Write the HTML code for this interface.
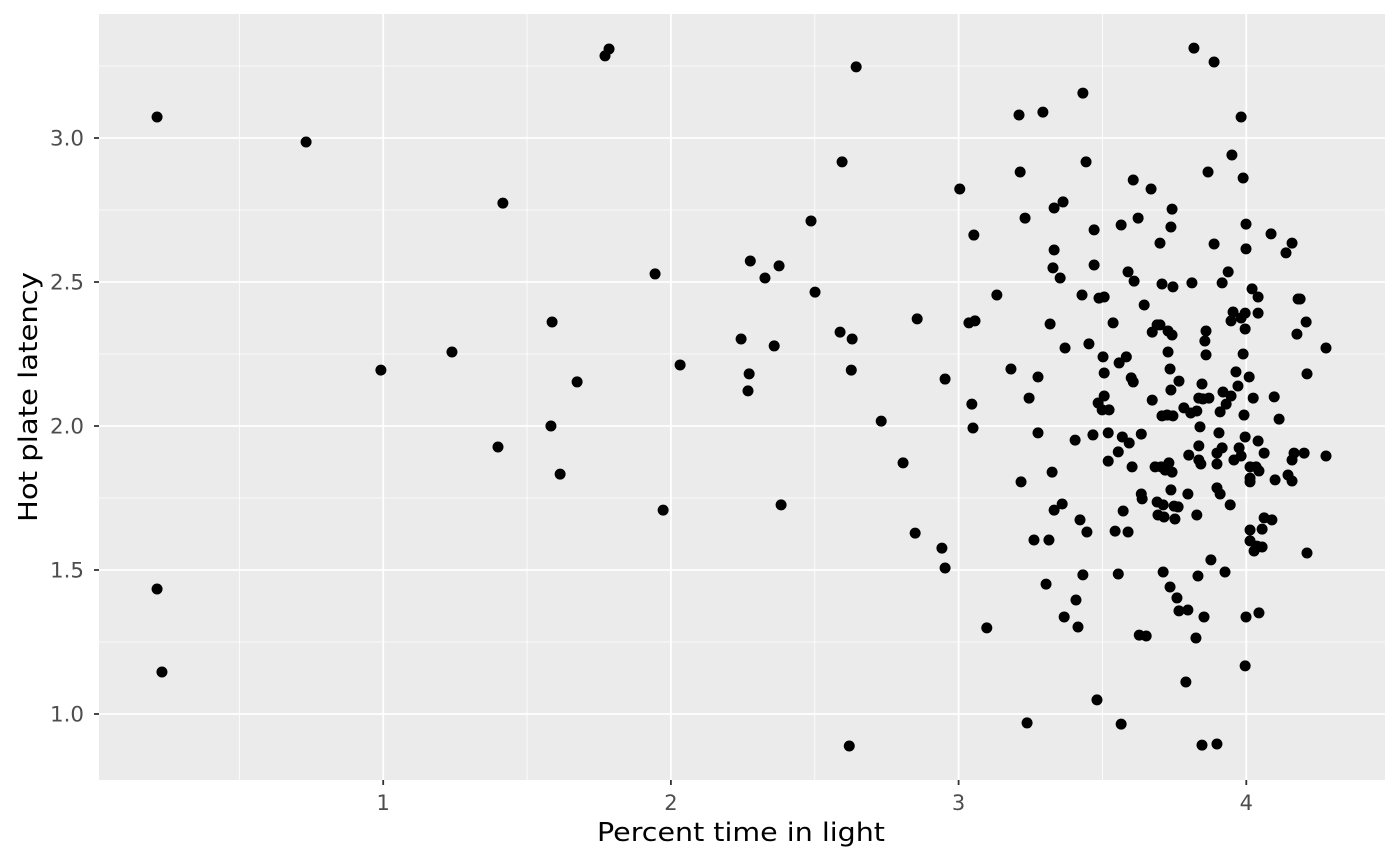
<!DOCTYPE html>
<html><head><meta charset="utf-8"><style>
body{margin:0;background:#fff;}
svg{display:block;font-family:"DejaVu Sans","Liberation Sans",sans-serif;}
</style></head><body>
<svg id="chart" width="1400" height="865" viewBox="0 0 1400 865" xmlns="http://www.w3.org/2000/svg">
<rect x="99" y="14" width="1286" height="766" fill="#ebebeb"/>
<g id="grid"></g>
<g id="points"></g>
<g id="axes"></g>
<text x="597" y="841" font-size="26" fill="#000" textLength="288" lengthAdjust="spacingAndGlyphs">Percent time in light</text>
<text transform="translate(37,522) rotate(-90)" font-size="26" fill="#000" textLength="250" lengthAdjust="spacingAndGlyphs">Hot plate latency</text>
</svg>
<script>
const xTicks=[1,2,3,4];
const xMinor=[0.5,1.5,2.5,3.5];
const yTicks=[1.0,1.5,2.0,2.5,3.0];
const yMinor=[1.25,1.75,2.25,2.75,3.25];
const xVals=[0.214,0.214,0.231,0.732,0.992,1.239,1.416,1.399,1.583,1.587,1.615,1.674,1.771,1.785,1.945,1.973,2.032,2.244,2.276,2.272,2.268,2.327,2.376,2.359,2.383,2.487,2.501,2.588,2.595,2.644,2.630,2.627,2.620,2.731,2.807,2.856,2.849,2.942,2.953,2.953,3.004,3.053,3.036,3.057,3.046,3.050,3.098,3.133,3.182,3.210,3.214,3.231,3.217,3.245,3.238,3.262,3.276,3.276,3.293,3.304,3.314,3.318,3.325,3.332,3.332,3.328,3.332,3.353,3.363,3.360,3.370,3.367,3.405,3.408,3.415,3.422,3.432,3.429,3.432,3.443,3.446,3.453,3.471,3.471,3.467,3.481,3.485,3.488,3.499,3.506,3.502,3.506,3.506,3.520,3.523,3.520,3.537,3.544,3.555,3.555,3.558,3.565,3.565,3.569,3.572,3.583,3.589,3.589,3.593,3.600,3.607,3.607,3.603,3.610,3.624,3.628,3.635,3.635,3.638,3.645,3.652,3.669,3.673,3.673,3.683,3.690,3.690,3.693,3.700,3.700,3.704,3.707,3.711,3.707,3.711,3.714,3.718,3.725,3.728,3.731,3.728,3.735,3.735,3.738,3.742,3.738,3.738,3.745,3.742,3.745,3.742,3.749,3.752,3.759,3.766,3.766,3.763,3.783,3.790,3.797,3.797,3.800,3.807,3.811,3.818,3.825,3.828,3.828,3.832,3.835,3.835,3.835,3.839,3.842,3.846,3.846,3.849,3.853,3.856,3.860,3.860,3.867,3.870,3.877,3.888,3.888,3.898,3.898,3.898,3.898,3.905,3.909,3.909,3.916,3.916,3.919,3.926,3.930,3.937,3.944,3.947,3.947,3.950,3.954,3.957,3.964,3.971,3.975,3.982,3.982,3.982,3.989,3.989,3.992,3.996,3.996,3.996,3.999,3.999,3.999,3.996,4.010,4.013,4.013,4.013,4.013,4.013,4.020,4.024,4.027,4.034,4.037,4.041,4.041,4.041,4.044,4.044,4.055,4.055,4.062,4.062,4.089,4.086,4.097,4.100,4.114,4.138,4.145,4.159,4.159,4.159,4.166,4.176,4.180,4.187,4.201,4.208,4.211,4.211,4.277,4.277];
const yVals=[3.073,1.434,1.146,2.986,2.194,2.257,2.774,1.927,2.000,2.361,1.833,2.153,3.285,3.309,2.528,1.708,2.212,2.302,2.573,2.181,2.122,2.514,2.556,2.278,1.726,2.712,2.465,2.326,2.917,3.247,2.302,2.194,0.889,2.017,1.872,2.372,1.628,1.576,1.507,2.163,2.823,2.663,2.358,2.365,2.076,1.993,1.299,2.455,2.198,3.080,2.882,2.722,1.806,2.097,0.969,1.604,1.976,2.170,3.090,1.451,1.604,2.354,1.840,1.708,2.611,2.549,2.757,2.514,2.778,1.729,2.271,1.337,1.951,1.396,1.302,1.674,3.156,2.455,1.483,2.917,1.632,2.285,2.681,2.559,1.969,1.049,2.080,2.444,2.056,2.448,2.240,2.184,2.104,1.976,2.056,1.878,2.358,1.635,1.486,1.910,2.219,2.698,0.965,1.962,1.705,2.240,1.632,2.535,1.941,2.167,2.854,2.153,1.858,2.503,2.722,1.274,1.972,1.764,1.747,2.420,1.271,2.823,2.090,2.326,1.858,2.351,1.736,1.691,2.635,2.351,1.858,2.035,1.726,2.493,1.493,1.684,1.847,2.038,2.257,1.872,2.330,2.198,1.441,1.778,2.753,2.691,2.125,2.483,2.316,2.035,1.840,1.722,1.677,1.403,2.156,1.358,1.719,2.063,1.111,1.764,1.361,1.899,2.045,2.497,3.312,1.264,1.691,2.052,1.479,2.097,1.931,1.882,1.997,1.868,2.146,0.892,2.094,1.337,2.295,2.247,2.330,2.882,2.097,1.535,3.264,2.632,1.906,0.896,1.868,1.785,1.976,2.049,1.764,2.497,1.924,2.118,1.493,2.076,2.535,1.726,2.104,2.365,2.941,2.396,1.882,2.188,2.139,1.924,1.896,3.073,2.375,2.861,2.250,2.038,2.337,1.962,2.392,2.701,2.615,1.337,1.167,2.170,1.858,1.819,1.806,1.639,1.601,2.476,2.097,1.566,1.858,1.583,1.948,2.392,2.448,1.844,1.351,1.642,1.580,1.681,1.906,1.674,2.667,2.101,1.813,2.024,2.601,1.830,2.635,1.882,1.809,1.906,2.319,2.441,2.441,1.906,2.361,2.181,1.559,2.271,1.896];

const NS="http://www.w3.org/2000/svg";
const P={l:99,r:1385,t:14,b:780};
function xs(v){return 95.5+v*287.7;}
function ys(v){return 1002-v*288;}
function mk(tag,attrs,parent){const e=document.createElementNS(NS,tag);for(const k in attrs)e.setAttribute(k,attrs[k]);parent.appendChild(e);return e;}
const grid=document.getElementById('grid'),pts=document.getElementById('points'),axes=document.getElementById('axes');
xMinor.forEach(v=>{const e=mk('line',{x1:xs(v),x2:xs(v),y1:P.t,y2:P.b,stroke:'#fff','stroke-width':0.8},grid);

});
yMinor.forEach(v=>{const e=mk('line',{x1:P.l,x2:P.r,y1:ys(v),y2:ys(v),stroke:'#fff','stroke-width':0.8},grid);

});
xTicks.forEach(v=>{const e=mk('line',{x1:xs(v),x2:xs(v),y1:P.t,y2:P.b,stroke:'#fff','stroke-width':1.8},grid);


const t=mk('line',{x1:xs(v),x2:xs(v),y1:P.b,y2:P.b+5,stroke:'#333','stroke-width':1.8},axes);


const l=mk('text',{x:xs(v),y:P.b+30,'text-anchor':'middle','font-size':21,fill:'#4d4d4d'},axes);l.textContent=String(v);

});
yTicks.forEach(v=>{const e=mk('line',{x1:P.l,x2:P.r,y1:ys(v),y2:ys(v),stroke:'#fff','stroke-width':1.8},grid);


const t=mk('line',{x1:P.l-5,x2:P.l,y1:ys(v),y2:ys(v),stroke:'#333','stroke-width':1.8},axes);


const l=mk('text',{x:50,y:ys(v)+7.5,'font-size':21,fill:'#4d4d4d',textLength:34,lengthAdjust:'spacingAndGlyphs'},axes);l.textContent=v.toFixed(1);

});
xVals.forEach((x,i)=>{const c=mk('circle',{cx:xs(x),cy:ys(yVals[i]),r:5.5,fill:'#000'},pts);

});
</script>
</body></html>
